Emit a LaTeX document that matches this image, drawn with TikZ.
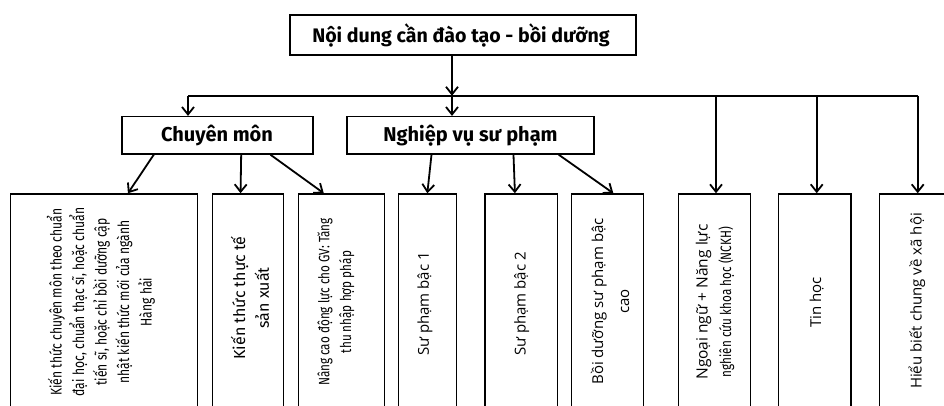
\documentclass[tikz,border=0pt]{standalone}
\usepackage{fontspec}
\setmainfont{Open Sans}
\newfontfamily\myr{Fira Sans}
\newfontfamily\myc[FakeStretch=0.78]{Fira Sans}
\newfontfamily\seg{Open Sans}
\usetikzlibrary{arrows.meta,calc}
\tikzset{
  box/.style={draw=black, line width=1.5pt, inner sep=0pt, fill=none},
  head/.style={font=\myr\bfseries\fontsize{20}{23}\selectfont},
  vt/.style={rotate=90, align=center, inner sep=0pt},
  conn/.style={line width=1.8pt, -{Straight Barb[length=7.5pt,width=12pt,line width=1.8pt]}},
  plain/.style={line width=1.6pt}
}
\begin{document}
\begin{tikzpicture}[x=1pt,y=-1pt]
\useasboundingbox (0,0) rectangle (944,405);
\clip (0,0) rectangle (944,405);
% top level
\node[box, minimum width=346pt, minimum height=40pt] (top) at (463,35) {};
\node[head, font=\myr\bfseries\fontsize{19.6}{23}\selectfont] (toptxt) at (461,35) {Nội dung cần đào tạo - bồi dưỡng};
% second level
\node[box, minimum width=191pt, minimum height=37.3pt] (cm) at (217.5,135.3) {};
\node[head] (cmtxt) at (217,135.3) {Chuyên môn};
\node[box, minimum width=247pt, minimum height=37.3pt] (nv) at (470.5,135.3) {};
\node[head] (nvtxt) at (470.5,135.3) {Nghiệp vụ sư phạm};
% bottom boxes
\node[box, minimum width=187pt, minimum height=220pt] (b1) at (104.2,304) {};
\node[box, minimum width=71pt, minimum height=220pt] (b2) at (247.8,304) {};
\node[box, minimum width=86pt, minimum height=220pt] (b3) at (341.3,304) {};
\node[box, minimum width=58.4pt, minimum height=220pt] (b4) at (427.5,304) {};
\node[box, minimum width=72.3pt, minimum height=220pt] (b5) at (521.2,304) {};
\node[box, minimum width=71.6pt, minimum height=220pt] (b6) at (607.5,304) {};
\node[box, minimum width=72.4pt, minimum height=220pt] (b7) at (714.5,304) {};
\node[box, minimum width=72.7pt, minimum height=220pt] (b8) at (814.7,304) {};
\node[box, minimum width=75.7pt, minimum height=220pt] (b9) at (917.2,304) {};
% texts
\node[vt, font=\myc\fontsize{15.5}{22.5}\selectfont] (t1) at (101,302) {Kiến thức chuyên môn theo chuẩn\\đại học, chuẩn thạc sĩ, hoặc chuẩn\\tiến sĩ, hoặc chỉ bồi dưỡng cập\\nhật kiến thức mới của ngành\\Hàng hải};
\node[vt, font=\myr\fontsize{16}{23.7}\selectfont] (t2) at (250,298) {Kiến thức thực tế\\sản xuất};
\node[vt, font=\myc\fontsize{15}{21.7}\selectfont] (t3) at (336,302) {Nâng cao động lực cho GV: Tăng\\thu nhập hợp pháp};
\node[vt, font=\seg\fontsize{15}{18}\selectfont] (t4) at (425,304) {Sư phạm bậc 1};
\node[vt, font=\seg\fontsize{15}{18}\selectfont] (t5) at (521.7,304) {Sư phạm bậc 2};
\node[vt, font=\seg\fontsize{15}{26}\selectfont] (t6) at (610,301.5) {Bồi dưỡng sư phạm bậc\\cao};
\node[vt, font=\seg\fontsize{15.5}{23.4}\selectfont] (t7) at (715,302) {Ngoại ngữ + Năng lực\\{\myc\fontsize{15}{18}\selectfont nghiên cứu khoa học (NCKH)}};
\node[vt, font=\seg\fontsize{15}{18}\selectfont] (t8) at (816.7,302.5) {Tin học};
\node[vt, font=\seg\fontsize{15}{18}\selectfont] (t9) at (917,301) {Hiểu biết chung về xã hội};
% horizontal distribution line
\coordinate (hl) at (188,95.7);
\coordinate (j0) at (452,95.7);
\coordinate (j7) at (716,95.7);
\coordinate (j8) at (816.7,95.7);
\coordinate (hr) at (917.7,95.7);
\draw[plain] (hl) -- (hr);
\draw[conn] (top.south -| j0) -- (j0);
\draw[conn] (hl) -- (hl |- cm.north);
\draw[conn] (j0) -- (j0 |- nv.north);
\draw[conn] (j7) -- (j7 |- b7.north);
\draw[conn] (j8) -- (j8 |- b8.north);
\draw[conn] (hr) -- (hr |- b9.north);
% from Chuyen mon
\draw[conn] ($(cm.south west)!0.169!(cm.south east)$) -- ($(b1.north west)!0.626!(b1.north east)$);
\draw[conn] ($(cm.south west)!0.623!(cm.south east)$) -- ($(b2.north west)!0.4!(b2.north east)$);
\draw[conn] ($(cm.south west)!0.775!(cm.south east)$) -- ($(b3.north west)!0.3!(b3.north east)$);
% from Nghiep vu
\draw[conn] ($(nv.south west)!0.343!(nv.south east)$) -- ($(b4.north west)!0.497!(b4.north east)$);
\draw[conn] ($(nv.south west)!0.673!(nv.south east)$) -- ($(b5.north west)!0.415!(b5.north east)$);
\draw[conn] ($(nv.south west)!0.855!(nv.south east)$) -- ($(b6.north west)!0.58!(b6.north east)$);
\end{tikzpicture}
\end{document}
